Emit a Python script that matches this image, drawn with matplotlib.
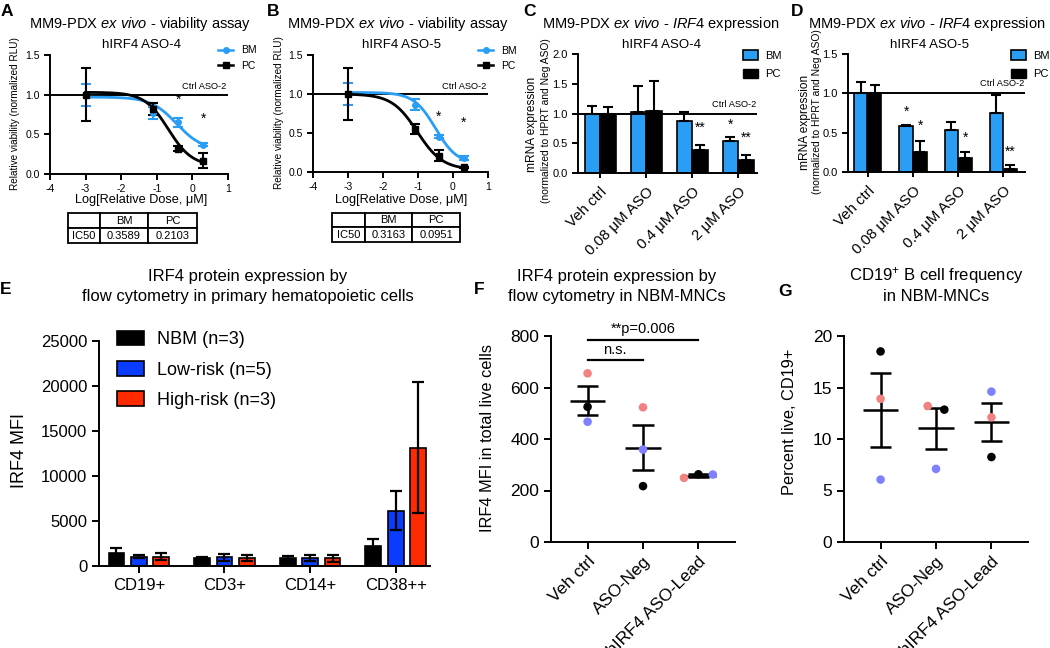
import numpy as np
import matplotlib.pyplot as plt
from matplotlib.lines import Line2D
from matplotlib.patches import Patch
from matplotlib.ticker import FormatStrFormatter

plt.rcParams['font.family'] = ['Liberation Sans', 'DejaVu Sans']
plt.rcParams['mathtext.fontset'] = 'custom'
plt.rcParams['mathtext.rm'] = 'Liberation Sans'
plt.rcParams['mathtext.it'] = 'Liberation Sans:italic'
plt.rcParams['axes.unicode_minus'] = False
plt.rcParams['axes.linewidth'] = 1.4
plt.rcParams['xtick.major.width'] = 1.4
plt.rcParams['ytick.major.width'] = 1.4

W, H = 1050, 648
SKY = '#2A9DF4'
SALMON = '#F28282'
LILAC = '#7F80FF'

# --- A / B: viability vs log dose ---
log_dose = [-3, -1.1, -0.4, 0.3]
a_bm = [1.0, 0.77, 0.65, 0.37]
a_bm_err = [0.14, 0.08, 0.06, 0.02]
a_pc = [1.0, 0.82, 0.32, 0.17]
a_pc_err = [0.33, 0.08, 0.03, 0.10]
a_fit_bm = (0.97, 0.30, -0.445, 1.2)   # top, bottom, logIC50, hill
a_fit_pc = (1.03, 0.10, -0.677, 1.3)
a_star_y = [0.94, 0.69]
a_ic50 = ['0.3589', '0.2103']

b_bm = [1.0, 0.86, 0.45, 0.18]
b_bm_err = [0.14, 0.07, 0.02, 0.02]
b_pc = [1.0, 0.55, 0.21, 0.06]
b_pc_err = [0.33, 0.06, 0.07, 0.01]
b_fit_bm = (1.02, 0.10, -0.50, 1.4)
b_fit_pc = (1.00, 0.03, -1.02, 1.2)
b_star_y = [0.71, 0.63]
b_ic50 = ['0.3163', '0.0951']

# --- C / D: mRNA expression ---
doses = ['Veh ctrl', '0.08 μM ASO', '0.4 μM ASO', '2 μM ASO']
c_bm = [0.99, 1.02, 0.88, 0.54]
c_bm_err = [0.14, 0.44, 0.15, 0.07]
c_pc = [1.0, 1.05, 0.39, 0.22]
c_pc_err = [0.11, 0.50, 0.08, 0.09]
c_stars = [(2, 'PC', '**', 0.76), (3, 'BM', '*', 0.81), (3, 'PC', '**', 0.60)]

d_bm = [1.0, 0.58, 0.535, 0.75]
d_bm_err = [0.15, 0.02, 0.10, 0.23]
d_pc = [1.0, 0.26, 0.18, 0.035]
d_pc_err = [0.11, 0.13, 0.08, 0.055]
d_stars = [(1, 'BM', '*', 0.77), (1, 'PC', '*', 0.59), (2, 'PC', '*', 0.43), (3, 'PC', '**', 0.26)]

# --- E: IRF4 MFI by cell type ---
cell_types = ['CD19+', 'CD3+', 'CD14+', 'CD38++']
e_nbm = [1450, 850, 900, 2250]
e_nbm_err = [600, 200, 200, 800]
e_low = [1050, 950, 900, 6150]
e_low_err = [150, 350, 350, 2150]
e_high = [1050, 900, 850, 13150]
e_high_err = [350, 350, 350, 7250]

# --- F / G: dot plots (order: salmon, black, lilac donor) ---
treatments = ['Veh ctrl', 'ASO-Neg', 'hIRF4 ASO-Lead']
donor_colors = [SALMON, 'black', LILAC]
f_vals = [[655, 525, 467], [523, 217, 359], [249, 263, 262]]
f_jitter = [[0, 0, 0], [0, 0, 0], [-0.26, 0, 0.26]]
g_vals = [[13.9, 18.5, 6.06], [13.2, 12.85, 7.1], [12.1, 8.25, 14.6]]
g_jitter = [[0, 0, 0], [-0.15, 0.15, 0], [0, 0, 0]]

fig = plt.figure(figsize=(W / 100, H / 100), dpi=100)


def add_ax(left, top, right, bottom):
    ax = fig.add_axes([left / W, 1 - bottom / H, (right - left) / W, (bottom - top) / H])
    ax.spines[['top', 'right']].set_visible(False)
    ax.tick_params(direction='out', length=4)
    return ax


def ftext(x, y, s, **kw):
    kw.setdefault('ha', 'center')
    kw.setdefault('va', 'center')
    fig.text(x / W, 1 - y / H, s, **kw)


def logistic(x, top, bottom, log_ic50, hill):
    return bottom + (top - bottom) / (1 + 10 ** ((x - log_ic50) * hill))


def viability_panel(ax, bm, bm_err, pc, pc_err, fit_bm, fit_pc, star_y, ic50, tbl_bbox, col_w):
    xs = np.linspace(log_dose[0], log_dose[-1], 200)
    ax.axhline(1.0, color='k', lw=1.4, zorder=1)
    ax.plot(xs, logistic(xs, *fit_bm), color=SKY, lw=2, zorder=2)
    ax.plot(xs, logistic(xs, *fit_pc), color='k', lw=2, zorder=2)
    ax.errorbar(log_dose, bm, yerr=bm_err, fmt='o', color=SKY, ms=4,
                capsize=3.5, elinewidth=1.5, capthick=1.5, zorder=3)
    ax.errorbar(log_dose, pc, yerr=pc_err, fmt='s', color='k', ms=4,
                capsize=3.5, elinewidth=1.5, capthick=1.5, zorder=3)
    for x, y in zip(log_dose[2:], star_y):
        ax.text(x, y, '*', ha='center', va='center', fontsize=10)
    ax.text(0.95, 1.04, 'Ctrl ASO-2', ha='right', va='bottom', fontsize=6.7)
    ax.set_xlim(-4, 1)
    ax.set_ylim(0, 1.5)
    ax.set_xticks([-4, -3, -2, -1, 0, 1])
    ax.set_yticks([0, 0.5, 1.0, 1.5])
    ax.yaxis.set_major_formatter(FormatStrFormatter('%.1f'))
    ax.tick_params(labelsize=7.5)
    handles = [Line2D([], [], color=SKY, marker='o', ms=4, lw=1.8),
               Line2D([], [], color='k', marker='s', ms=4, lw=1.8)]
    ax.legend(handles, ['BM', 'PC'], loc='upper left', bbox_to_anchor=(0.945, 1.08),
              frameon=False, fontsize=7.5, handlelength=1.4, handletextpad=0.8,
              labelspacing=0.5, borderpad=0, borderaxespad=0)
    tbl = ax.table(cellText=[['', 'BM', 'PC'], ['IC50'] + ic50], cellLoc='center',
                   bbox=tbl_bbox, colWidths=col_w)
    tbl.auto_set_font_size(False)
    tbl.set_fontsize(8)
    for cell in tbl.get_celld().values():
        cell.set_linewidth(1.3)


def mrna_panel(ax, bm, bm_err, pc, pc_err, stars, ymax, width, off):
    x = np.arange(len(doses))
    zeros = [0] * len(doses)
    ekw = dict(elinewidth=1.5, capthick=1.5)
    ax.bar(x - off, bm, width, yerr=[zeros, bm_err], color=SKY, edgecolor='k', lw=1.2,
           capsize=3.5, error_kw=ekw, zorder=2)
    ax.bar(x + off, pc, width, yerr=[zeros, pc_err], color='k', edgecolor='k', lw=1.2,
           capsize=3.5, error_kw=ekw, zorder=2)
    ax.axhline(1.0, color='k', lw=1.4, zorder=3)
    for g, series, s, y in stars:
        ax.text(g + (off if series == 'PC' else -off), y, s, ha='center', va='center', fontsize=10)
    ax.text(0.995, 1.07, 'Ctrl ASO-2', ha='right', va='bottom', fontsize=6.7,
            transform=ax.get_yaxis_transform())
    ax.set_xticks(x)
    ax.set_xticklabels(doses, rotation=45, ha='right', rotation_mode='anchor', fontsize=10.8)
    ax.tick_params(axis='x', length=3.5, pad=5)
    ax.tick_params(axis='y', labelsize=8)
    ax.set_ylim(0, ymax)
    ax.set_yticks(np.arange(0, ymax + 0.01, 0.5))
    ax.yaxis.set_major_formatter(FormatStrFormatter('%.1f'))
    handles = [Patch(facecolor=SKY, edgecolor='k', lw=1.2), Patch(facecolor='k', edgecolor='k')]
    ax.legend(handles, ['BM', 'PC'], loc='upper left', bbox_to_anchor=(0.92, 1.03),
              frameon=False, fontsize=8, handlelength=1.4, handleheight=0.9,
              handletextpad=0.6, labelspacing=0.7, borderpad=0, borderaxespad=0)


def dot_panel(ax, vals, jitter):
    for i, (grp, jit) in enumerate(zip(vals, jitter)):
        grp = np.array(grp)
        mean = grp.mean()
        sem = grp.std(ddof=1) / np.sqrt(len(grp))
        ax.hlines(mean, i - 0.32, i + 0.32, color='k', lw=1.8, zorder=2)
        ax.vlines(i, mean - sem, mean + sem, color='k', lw=1.8, zorder=2)
        ax.hlines([mean - sem, mean + sem], i - 0.19, i + 0.19, color='k', lw=1.8, zorder=2)
        for v, j, c in zip(grp, jit, donor_colors):
            ax.scatter(i + j, v, s=38, color=c, edgecolors='none', zorder=3, clip_on=False)
    ax.set_xlim(-0.66, 2.66)
    ax.set_xticks(range(len(treatments)))
    ax.set_xticklabels(treatments, rotation=45, ha='right', rotation_mode='anchor', fontsize=12)
    ax.tick_params(length=5, labelsize=12.5)


# ---------- A ----------
axA = add_ax(50, 55, 228, 174)
viability_panel(axA, a_bm, a_bm_err, a_pc, a_pc_err, a_fit_bm, a_fit_pc, a_star_y, a_ic50,
                [0.101, -0.58, 0.725, 0.252], [32, 48, 49])
ftext(7, 11, 'A', fontsize=12.5, fontweight='bold')
ftext(140, 24, r'MM9-PDX $\mathit{ex\ vivo}$ - viability assay', fontsize=10.5)
ftext(141, 45, 'hIRF4 ASO-4', fontsize=9.5)
ftext(15, 114, 'Relative viability (normalized RLU)', rotation=90, fontsize=7.2)
ftext(141, 200, 'Log[Relative Dose, μM]', fontsize=9.2)

# ---------- B ----------
axB = add_ax(313, 55, 488, 172)
viability_panel(axB, b_bm, b_bm_err, b_pc, b_pc_err, b_fit_bm, b_fit_pc, b_star_y, b_ic50,
                [0.109, -0.598, 0.731, 0.248], [33, 47, 48])
ftext(273, 11, 'B', fontsize=12.5, fontweight='bold')
ftext(398, 24, r'MM9-PDX $\mathit{ex\ vivo}$ - viability assay', fontsize=10.5)
ftext(401, 45, 'hIRF4 ASO-5', fontsize=9.5)
ftext(279, 113, 'Relative viability (normalized RLU)', rotation=90, fontsize=7.2)
ftext(401, 200, 'Log[Relative Dose, μM]', fontsize=9.2)

# ---------- C ----------
axC = add_ax(578, 54, 757, 173)
mrna_panel(axC, c_bm, c_bm_err, c_pc, c_pc_err, c_stars, 2.0, 0.337, 0.17)
axC.set_xlim(-0.48, 3.41)
ftext(529, 11, 'C', fontsize=12.5, fontweight='bold')
ftext(661, 24, r'MM9-PDX $\mathit{ex\ vivo}$ - $\mathit{IRF4}$ expression', fontsize=10.5)
ftext(662, 45, 'hIRF4 ASO-4', fontsize=9.5)
ftext(532, 124, 'mRNA expression', rotation=90, fontsize=8.6)
ftext(546, 121, '(normalized to HPRT and Neg ASO)', rotation=90, fontsize=7.4)

# ---------- D ----------
axD = add_ax(848, 54, 1025, 172)
mrna_panel(axD, d_bm, d_bm_err, d_pc, d_pc_err, d_stars, 1.5, 0.29, 0.155)
axD.set_xlim(-0.44, 3.48)
ftext(797, 11, 'D', fontsize=12.5, fontweight='bold')
ftext(927, 24, r'MM9-PDX $\mathit{ex\ vivo}$ - $\mathit{IRF4}$ expression', fontsize=10.5)
ftext(930, 45, 'hIRF4 ASO-5', fontsize=9.5)
ftext(805, 122, 'mRNA expression', rotation=90, fontsize=8.6)
ftext(817, 112, '(normalized to HPRT and Neg ASO)', rotation=90, fontsize=7.4)

# ---------- E ----------
axE = add_ax(99, 341, 430, 566)
xe = np.arange(len(cell_types))
ekw = dict(elinewidth=1.6, capthick=1.6)
for off, vals, err, col, lab in [(-0.262, e_nbm, e_nbm_err, 'black', 'NBM (n=3)'),
                                 (0, e_low, e_low_err, '#0A3CFF', 'Low-risk (n=5)'),
                                 (0.262, e_high, e_high_err, '#FF2A00', 'High-risk (n=3)')]:
    axE.bar(xe + off, vals, 0.183, yerr=err, color=col, edgecolor='k', lw=1.2,
            capsize=4.5, error_kw=ekw, label=lab)
axE.set_xlim(-0.465, 3.4)
axE.set_ylim(0, 25000)
axE.set_yticks(range(0, 25001, 5000))
axE.set_xticks(xe)
axE.set_xticklabels(cell_types)
axE.tick_params(length=5, labelsize=12)
axE.legend(loc='upper left', bbox_to_anchor=(0.054, 1.045), frameon=False, fontsize=13,
           handlelength=1.5, handleheight=0.86, handletextpad=0.75, labelspacing=0.7,
           borderpad=0, borderaxespad=0)
ftext(6, 290, 'E', fontsize=12.5, fontweight='bold')
ftext(248, 276, 'IRF4 protein expression by', fontsize=12)
ftext(248, 297, 'flow cytometry in primary hematopoietic cells', fontsize=12)
ftext(20, 450, 'IRF4 MFI', rotation=90, fontsize=13)

# ---------- F ----------
axF = add_ax(551, 336, 735, 542)
dot_panel(axF, f_vals, f_jitter)
axF.set_ylim(0, 800)
axF.set_yticks(range(0, 801, 200))
axF.plot([0, 2], [784, 784], color='k', lw=1.6, clip_on=False)
axF.plot([0, 1], [706, 706], color='k', lw=1.6, clip_on=False)
axF.text(1, 800, '**p=0.006', ha='center', va='bottom', fontsize=10.5)
axF.text(0.5, 720, 'n.s.', ha='center', va='bottom', fontsize=10.5)
ftext(479, 290, 'F', fontsize=12.5, fontweight='bold')
ftext(617, 276, 'IRF4 protein expression by', fontsize=12)
ftext(617, 297, 'flow cytometry in NBM-MNCs', fontsize=12)
ftext(487, 438, 'IRF4 MFI in total live cells', rotation=90, fontsize=11.8)

# ---------- G ----------
axG = add_ax(844, 336, 1028, 542)
dot_panel(axG, g_vals, g_jitter)
axG.set_ylim(0, 20)
axG.set_yticks(range(0, 21, 5))
ftext(785, 291, 'G', fontsize=12.5, fontweight='bold')
ftext(936, 276, r'CD19$^{+}$ B cell frequency', fontsize=12)
ftext(936, 297, 'in NBM-MNCs', fontsize=12)
ftext(789, 422, 'Percent live, CD19+', rotation=90, fontsize=11.8)

fig.savefig('out.png', dpi=100)
